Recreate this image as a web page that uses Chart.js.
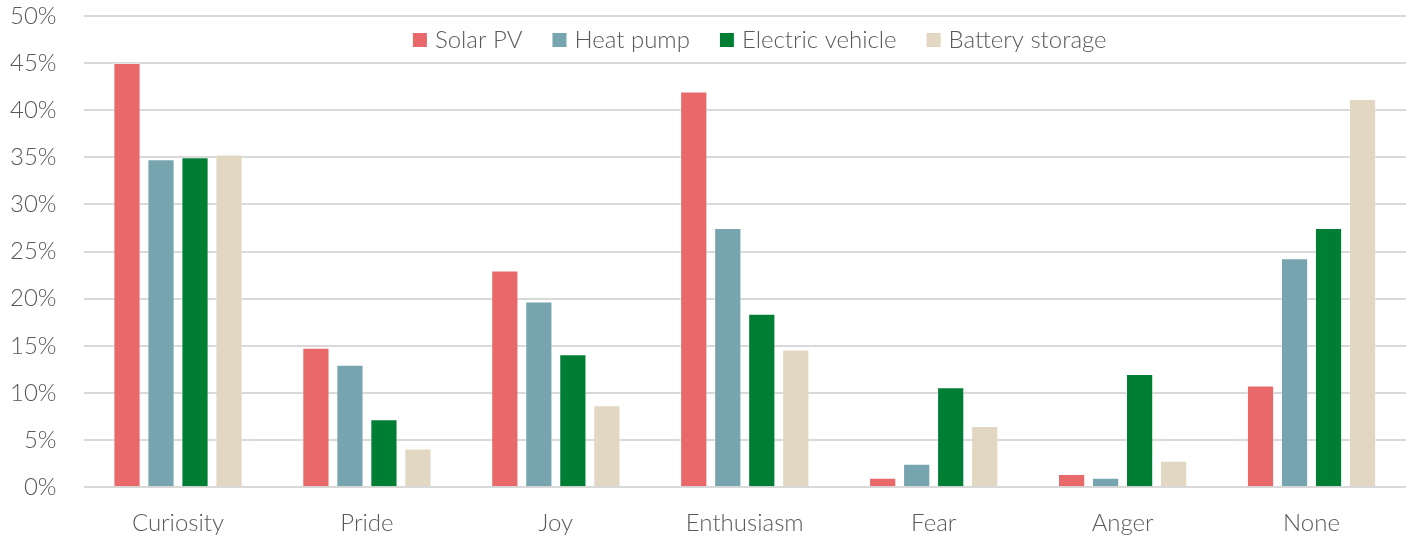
<!DOCTYPE html>
<html>
<head>
<meta charset="utf-8">
<script src="https://cdn.jsdelivr.net/npm/chart.js@4"></script>
<style>
  html, body { margin: 0; padding: 0; background: #fff; }
  #wrap { width: 1410px; height: 541px; }
</style>
</head>
<body>
<div id="wrap"><canvas id="myChart" width="1410" height="541"></canvas></div>
<script>
const categories = ["Curiosity", "Pride", "Joy", "Enthusiasm", "Fear", "Anger", "None"];
const solarPV = [45, 14.8, 23, 42, 1, 1.4, 10.8];
const heatPump = [34.8, 13, 19.7, 27.5, 2.5, 1, 24.3];
const electricVehicle = [35, 7.2, 14.1, 18.4, 10.6, 12, 27.5];
const batteryStorage = [35.3, 4.1, 8.7, 14.6, 6.5, 2.8, 41.2];

const textColor = "#595959";
const fontFamily = "Lato, 'Open Sans', sans-serif";
const fontWeight = 300;

const ctx = document.getElementById("myChart").getContext("2d");

function series(label, data, color) {
  return {
    label,
    data,
    backgroundColor: color,
    borderColor: "rgba(255,255,255,0.35)",
    borderWidth: 1,
    barPercentage: 0.8,
    categoryPercentage: 0.72
  };
}

// legend drawn inside the plot area, centred near the top
const insideLegend = {
  id: "insideLegend",
  afterDraw(chart) {
    const c = chart.ctx;
    const area = chart.chartArea;
    const box = 14, textGap = 8, itemGap = 30;
    c.save();
    c.font = fontWeight + " 24px " + fontFamily;
    c.textBaseline = "middle";
    const items = chart.data.datasets.map(ds => ({
      label: ds.label,
      color: ds.backgroundColor,
      w: box + textGap + c.measureText(ds.label).width
    }));
    const total = items.reduce((s, it) => s + it.w, 0) + itemGap * (items.length - 1);
    let x = (area.left + area.right) / 2 + 15 - total / 2;
    const y = area.top + 24;
    items.forEach(it => {
      c.fillStyle = it.color;
      c.fillRect(x, y - box / 2, box, box);
      c.fillStyle = textColor;
      c.fillText(it.label, x + box + textGap, y);
      x += it.w + itemGap;
    });
    c.restore();
  }
};

new Chart(ctx, {
  type: "bar",
  data: {
    labels: categories,
    datasets: [
      series("Solar PV", solarPV, "#E9686A"),
      series("Heat pump", heatPump, "#76A5AF"),
      series("Electric vehicle", electricVehicle, "#007E33"),
      series("Battery storage", batteryStorage, "#E1D7C3")
    ]
  },
  options: {
    responsive: false,
    animation: false,
    layout: {
      padding: { top: 16, right: 4, left: 10, bottom: -11 }
    },
    scales: {
      x: {
        grid: { display: false },
        border: { display: false },
        ticks: {
          color: textColor,
          font: { family: fontFamily, size: 24, weight: fontWeight },
          padding: 14
        }
      },
      y: {
        min: 0,
        max: 50,
        ticks: {
          stepSize: 5,
          color: textColor,
          font: { family: fontFamily, size: 24, weight: fontWeight },
          padding: 0,
          callback: (v) => v + "%"
        },
        border: { display: false },
        // transparent tick marks give the gap between labels and plot
        grid: { color: "#d9d9d9", lineWidth: 2, drawTicks: true, tickLength: 27, tickColor: "rgba(0,0,0,0)" }
      }
    },
    plugins: {
      legend: { display: false },
      tooltip: { enabled: false }
    }
  },
  plugins: [insideLegend]
});
</script>
</body>
</html>
